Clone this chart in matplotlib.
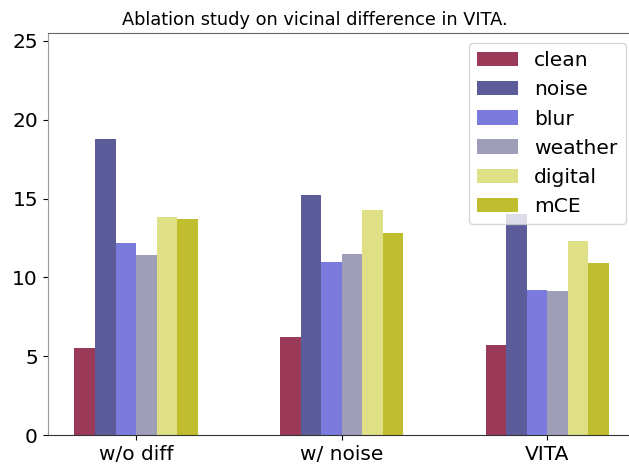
import numpy as np
import matplotlib
matplotlib.use('Agg')
import matplotlib.pyplot as plt

# groups on the x axis
groups = ['w/o diff', 'w/ noise', 'VITA']

# error values per corruption type
clean = [5.5, 6.2, 5.7]
noise = [18.8, 15.2, 14.0]
blur = [12.2, 11.0, 9.2]
weather = [11.4, 11.5, 9.15]
digital = [13.8, 14.3, 12.3]
mce = [13.7, 12.8, 10.9]

names = ['clean', 'noise', 'blur', 'weather', 'digital', 'mCE']
series = [clean, noise, blur, weather, digital, mce]
colors = ['#9b3a58', '#5c5c9b', '#7b7bde', '#9e9eb8', '#dfdf85', '#c0be2e']

fig = plt.figure(figsize=(6.29, 4.65), dpi=100)
# axes runs a little past the right edge, like the cropped original
ax = fig.add_axes([0.0758, 0.0645, 0.935, 0.8645])

x = np.arange(len(groups))
w = 0.1
for i, (name, vals) in enumerate(zip(names, series)):
    ax.bar(x + (i - 2.5) * w, vals, width=w, color=colors[i], label=name, linewidth=0)

ax.set_xticks(x)
ax.set_xticklabels(groups, fontsize=14.5)
ax.tick_params(axis='y', labelsize=14.5)
ax.set_yticks([0, 5, 10, 15, 20, 25])
ax.set_ylim(0, 25.5)
ax.set_xlim(-0.43, 2.43)

ax.spines['right'].set_visible(False)
ax.spines['left'].set_color('#999999')
ax.spines['top'].set_color('#666666')
ax.spines['bottom'].set_color('#333333')

fig.text(0.5, 1 - 20 / 465, 'Ablation study on vicinal difference in VITA.',
         fontsize=12.8, ha='center', va='center')
ax.legend(loc='upper right', fontsize=14.6)

plt.savefig('out.png', dpi=100)
